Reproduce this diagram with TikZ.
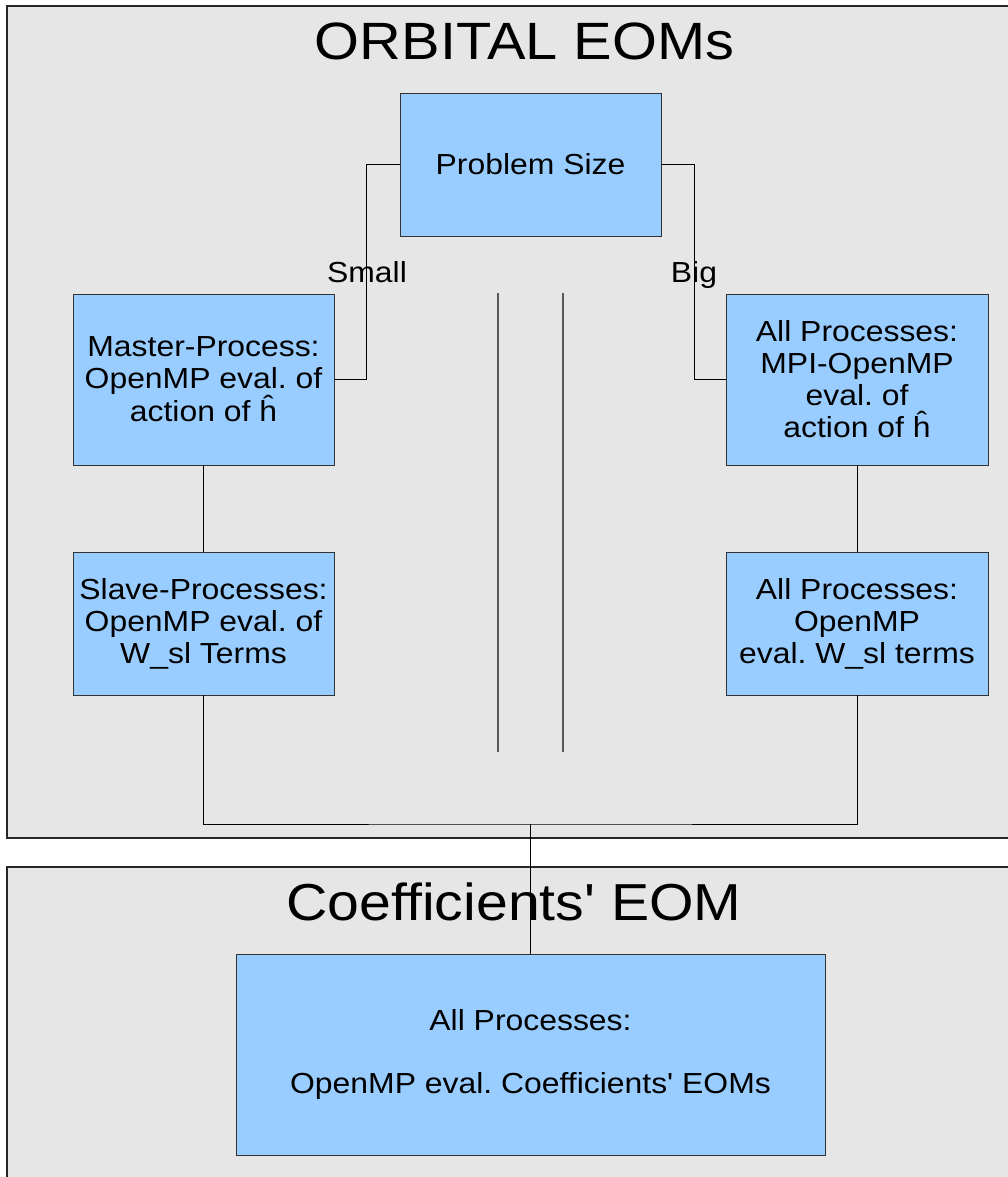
\documentclass[tikz,border=0pt]{standalone}
\usepackage{fontspec}
\setmainfont{Liberation Sans}
\newfontfamily\boxfont[FakeStretch=1.1,Ligatures=TeXOff]{Liberation Sans}
\newfontfamily\titlefont[FakeStretch=1.1,Ligatures=TeXOff]{Liberation Sans}
\definecolor{boxblue}{HTML}{99CCFF}
\definecolor{framegray}{HTML}{E6E6E6}
\frenchspacing
\begin{document}
\begin{tikzpicture}[x=1pt,y=-1pt,
  proc/.style={draw=black!80, fill=boxblue, line width=0.9pt, inner sep=0pt, align=center,
               font=\boxfont\frenchspacing\fontsize{29}{32}\selectfont},
  lbl/.style={font=\boxfont\fontsize{29}{32}\selectfont, inner sep=0pt, anchor=base},
  frame/.style={draw=black!85, fill=framegray, line width=1.1pt},
  conn/.style={draw=black, line width=0.9pt},
  sep/.style={draw=black!65, line width=1.3pt},
  ]
\useasboundingbox (0,0) rectangle (1008,1177);
\clip (0,0) rectangle (1008,1177);
% frames
\path[frame] (7,6) rectangle (1020,838);
\path[frame] (7,867) rectangle (1020,1190);
% titles
\node[anchor=base, inner sep=0pt, font=\titlefont\fontsize{52.5}{60}\selectfont] (t1) at (524.5,60) {ORBITAL EOMs};
\node[anchor=base, inner sep=0pt, font=\titlefont\fontsize{52}{60}\selectfont] (t2) at (514,920) {Coefficients' EOM};
% separator lines
\draw[sep] (498,293) -- (498,752);
\draw[sep] (563,293) -- (563,752);
% boxes
\node[proc, minimum width=261pt, minimum height=143pt] (ps) at (530.5,164.5) {Problem Size};
\node[proc, minimum width=261pt, minimum height=171pt] (master) at (203.5,379.5)
  {Master-Process:\\OpenMP eval. of\\action of ĥ};
\node[proc, minimum width=262pt, minimum height=171pt] (mpi) at (857,379.5)
  {All Processes:\\MPI-OpenMP\\eval. of\\action of ĥ};
\node[proc, minimum width=261pt, minimum height=143pt] (slave) at (203.5,623.5)
  {Slave-Processes:\\OpenMP eval. of\\W\_sl Terms};
\node[proc, minimum width=262pt, minimum height=143pt] (wsl) at (857,623.5)
  {All Processes:\\OpenMP\\eval. W\_sl terms};
\node[proc, minimum width=589pt, minimum height=201pt] (coef) at (530.5,1054.5)
  {All Processes:\\[31.5pt]OpenMP eval. Coefficients' EOMs};
% labels
\node[lbl] (small) at (367,282) {Small};
\node[lbl] (big) at (694,282) {Big};
% connectors
\coordinate (j) at (530.5,824);
\draw[conn] (ps.west) -- ++(-33,0) |- (master.east);
\draw[conn] (ps.east) -- ++(33,0) |- (mpi.west);
\draw[conn] (master.south) -- (slave.north);
\draw[conn] (mpi.south) -- (wsl.north);
\draw[conn] (slave.south) |- (j) -| (wsl.south);
\draw[conn] (j) -- (coef.north);
\end{tikzpicture}
\end{document}
